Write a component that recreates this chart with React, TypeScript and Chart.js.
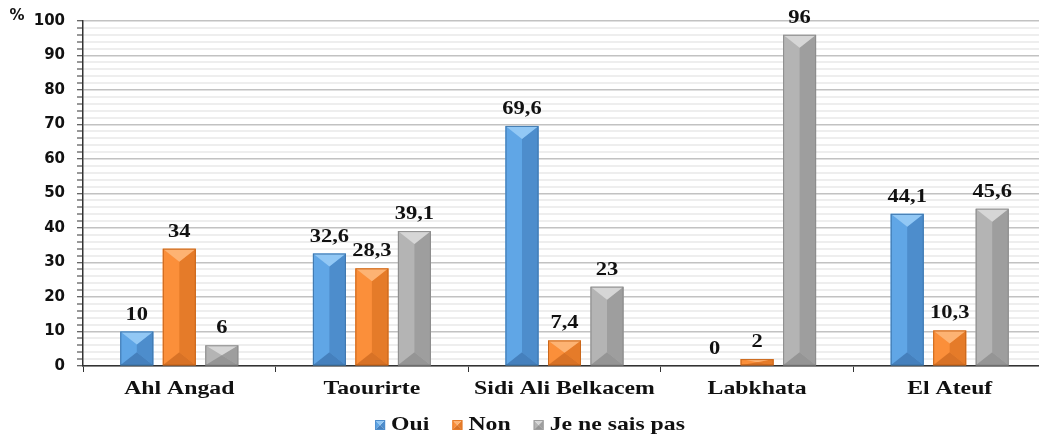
import React, { useEffect, useRef } from "react";
import { Chart, registerables } from "chart.js";

Chart.register(...registerables);

const categories = ["Ahl Angad", "Taourirte", "Sidi Ali Belkacem", "Labkhata", "El Ateuf"];
const seriesNames = ["Oui", "Non", "Je ne sais pas"];
const ouiValues = [10, 32.6, 69.6, 0, 44.1];
const nonValues = [34, 28.3, 7.4, 2, 10.3];
const nspValues = [6, 39.1, 23, 96, 45.6];

// Face colours for the bevelled bars: left, right, top, bottom, outline
const palettes = [
  { left: "#60a6e6", right: "#4d8dcc", top: "#92c8f5", bottom: "#4580bd", edge: "#3f77ad" },
  { left: "#fb8f3a", right: "#e57b29", top: "#fdb373", bottom: "#d87226", edge: "#c9671c" },
  { left: "#b4b4b4", right: "#9e9e9e", top: "#d6d6d6", bottom: "#959595", edge: "#8c8c8c" },
];

const SERIF = "'Liberation Serif', 'Times New Roman', serif";
const SANS = "'DejaVu Sans', Verdana, sans-serif";
const STRETCH = 1.25;

function fmt(v: number) {
  return String(v).replace(".", ",");
}

function drawBevel(ctx: CanvasRenderingContext2D, l: number, t: number, r: number, b: number, p: any) {
  const h = b - t;
  if (h <= 0.5) return;
  const cx = (l + r) / 2;
  const depth = Math.min(13, h / 2);
  const face = (pts: number[][], color: string) => {
    ctx.beginPath();
    ctx.moveTo(pts[0][0], pts[0][1]);
    for (let i = 1; i < pts.length; i++) ctx.lineTo(pts[i][0], pts[i][1]);
    ctx.closePath();
    ctx.fillStyle = color;
    ctx.fill();
  };
  face([[l, t], [cx, t + depth], [cx, b - depth], [l, b]], p.left);
  face([[r, t], [cx, t + depth], [cx, b - depth], [r, b]], p.right);
  face([[l, t], [r, t], [cx, t + depth]], p.top);
  face([[l, b], [r, b], [cx, b - depth]], p.bottom);
  ctx.strokeStyle = p.edge;
  ctx.lineWidth = 1;
  ctx.strokeRect(l + 0.5, t + 0.5, r - l - 1, h - 1);
}

function stretchedText(ctx: CanvasRenderingContext2D, text: string, x: number, y: number) {
  ctx.save();
  ctx.translate(x, y);
  ctx.scale(STRETCH, 1);
  ctx.fillText(text, 0, 0);
  ctx.restore();
}

const bevelPlugin = {
  id: "bevelBars",
  afterDatasetsDraw(chart: any) {
    const ctx: CanvasRenderingContext2D = chart.ctx;
    ctx.save();
    chart.data.datasets.forEach((ds: any, di: number) => {
      const meta = chart.getDatasetMeta(di);
      meta.data.forEach((el: any, i: number) => {
        const { x, y, base, width } = el.getProps(["x", "y", "base", "width"], true);
        const top = Math.min(y, base);
        const bottom = Math.max(y, base);
        drawBevel(ctx, x - width / 2, top, x + width / 2, bottom, palettes[di]);
        ctx.fillStyle = "#111";
        ctx.font = `bold 18px ${SERIF}`;
        ctx.textAlign = "center";
        ctx.textBaseline = "alphabetic";
        stretchedText(ctx, fmt(ds.data[i]), x, top - 12);
      });
    });
    ctx.restore();
  },
  afterDraw(chart: any) {
    const ctx: CanvasRenderingContext2D = chart.ctx;
    const xScale = chart.scales.x;
    ctx.save();
    // category labels
    ctx.fillStyle = "#111";
    ctx.font = `bold 19px ${SERIF}`;
    ctx.textAlign = "center";
    ctx.textBaseline = "middle";
    categories.forEach((c, i) => {
      stretchedText(ctx, c, xScale.getPixelForValue(i), 389);
    });
    // unit label
    ctx.font = `bold 15px ${SANS}`;
    ctx.fillText("%", 17, 16);
    // legend
    ctx.font = `bold 19px ${SERIF}`;
    ctx.textAlign = "left";
    const box = 10, gapBox = 6, gapItem = 23;
    const widths = seriesNames.map((n) => ctx.measureText(n).width * STRETCH);
    const total = widths.reduce((a, w) => a + box + gapBox + w, 0) + gapItem * (seriesNames.length - 1);
    let lx = 530 - total / 2;
    const ly = 425;
    seriesNames.forEach((n, i) => {
      drawBevel(ctx, lx, ly - 5, lx + box, ly + 5, { ...palettes[i], edge: palettes[i].right });
      ctx.fillStyle = "#111";
      ctx.save();
      ctx.translate(lx + box + gapBox, ly);
      ctx.scale(STRETCH, 1);
      ctx.fillText(n, 0, 0);
      ctx.restore();
      lx += box + gapBox + widths[i] + gapItem;
    });
    ctx.restore();
  },
};

export default function App() {
  const ref = useRef<HTMLCanvasElement>(null);
  useEffect(() => {
    if (!ref.current) return;
    const datasets = [ouiValues, nonValues, nspValues].map((vals, i) => ({
      label: seriesNames[i],
      data: vals,
      backgroundColor: palettes[i].left,
      borderWidth: 0,
      categoryPercentage: 0.662,
      barPercentage: 0.776,
    }));
    const chart = new Chart(ref.current, {
      type: "bar",
      data: { labels: categories, datasets },
      options: {
        animation: false,
        responsive: false,
        devicePixelRatio: 1,
        layout: { padding: { top: 20, left: 0, right: 0, bottom: 0 } },
        plugins: { legend: { display: false }, tooltip: { enabled: false } },
        scales: {
          x: {
            grid: {
              offset: true,
              drawOnChartArea: false,
              drawTicks: true,
              tickLength: 6,
              tickColor: "#333",
            },
            border: { display: true, color: "#333", width: 1.5 },
            ticks: { color: "rgba(0,0,0,0)", font: { size: 12 } },
            afterFit: (s: any) => {
              s.height = 70;
            },
          },
          y: {
            min: 0,
            max: 100,
            grid: {
              color: (c: any) => (c.tick && c.tick.value % 10 === 0 ? "#c2c2c2" : "#eeeeee"),
              lineWidth: (c: any) => (c.tick && c.tick.value % 10 === 0 ? 1.5 : 2),
              tickLength: 6,
              tickColor: "#333",
              tickWidth: 1,
            },
            border: { display: true, color: "#333", width: 1.5 },
            ticks: {
              stepSize: 2,
              autoSkip: false,
              padding: 12,
              color: "#111",
              font: { family: SANS, size: 15, weight: "bold" },
              callback: (v: any) => (Number(v) % 10 === 0 ? String(v) : ""),
            },
            afterFit: (s: any) => {
              s.width = 83;
            },
          },
        },
      },
      plugins: [bevelPlugin],
    });
    return () => chart.destroy();
  }, []);
  return (
    <div
      style={{
        position: "fixed",
        left: 0,
        top: 0,
        width: 1039,
        height: 436,
        overflow: "hidden",
        background: "#fff",
      }}
    >
      <canvas ref={ref} width={1046} height={436} style={{ width: 1046, height: 436, display: "block" }} />
    </div>
  );
}
